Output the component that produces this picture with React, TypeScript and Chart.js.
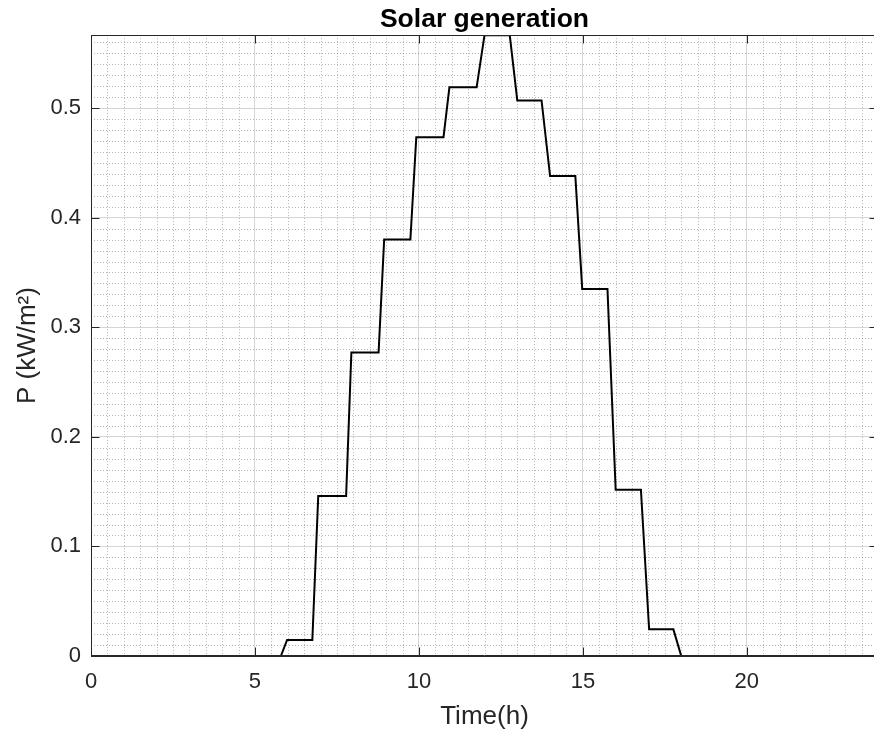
import { useEffect, useRef } from 'react';
import { Chart, registerables } from 'chart.js';

Chart.register(...registerables);

const TITLE = 'Solar generation';
const X_LABEL = 'Time(h)';
const Y_LABEL = 'P (kW/m²)';

const X_MIN = 0;
const X_MAX = 24;
const X_STEP = 5;
const X_MINOR = 0.5;
const Y_MIN = 0;
const Y_MAX = 0.5666;
const Y_STEP = 0.1;
const Y_MINOR = 0.01;

// Time (hours) and solar power (kW/m²)
const TIME_H = [0, 5.79, 5.98, 6.75, 6.93, 7.78, 7.94, 8.77, 8.94, 9.74, 9.92, 10.75, 10.93, 11.76, 12.0, 12.77, 13.0, 13.74, 14.0, 14.77, 14.98, 15.75, 16.0, 16.77, 17.02, 17.76, 18.0, 24];
const POWER = [0, 0, 0.0146, 0.0146, 0.146, 0.146, 0.277, 0.277, 0.380, 0.380, 0.4735, 0.4735, 0.519, 0.519, 0.5666, 0.5666, 0.507, 0.507, 0.438, 0.438, 0.335, 0.335, 0.1517, 0.1517, 0.0243, 0.0243, 0, 0];

const FONT = "'Liberation Sans', Arial, Helvetica, sans-serif";
const AXIS_COLOR = '#262626';

const matlabAxes = {
  id: 'matlabAxes',
  beforeDatasetsDraw(chart: any) {
    const { ctx, chartArea, scales } = chart;
    const { left, right, top, bottom } = chartArea;
    const x = scales.x;
    const y = scales.y;
    ctx.save();
    ctx.strokeStyle = 'rgba(60,60,60,0.38)';
    ctx.lineWidth = 1;
    ctx.setLineDash([1, 2]);
    ctx.beginPath();
    for (let i = 1; X_MIN + i * X_MINOR < X_MAX - 1e-9; i++) {
      const v = X_MIN + i * X_MINOR;
      if (Math.abs(v / X_STEP - Math.round(v / X_STEP)) < 1e-6) continue;
      const px = Math.round(x.getPixelForValue(v)) + 0.5;
      ctx.moveTo(px, top);
      ctx.lineTo(px, bottom);
    }
    for (let i = 1; Y_MIN + i * Y_MINOR < Y_MAX - 1e-9; i++) {
      const v = Y_MIN + i * Y_MINOR;
      if (Math.abs(v / Y_STEP - Math.round(v / Y_STEP)) < 1e-6) continue;
      const py = Math.round(y.getPixelForValue(v)) + 0.5;
      ctx.moveTo(left, py);
      ctx.lineTo(right, py);
    }
    ctx.stroke();
    ctx.restore();
  },
  afterDatasetsDraw(chart: any) {
    const { ctx, chartArea, scales } = chart;
    const { left, right, top, bottom } = chartArea;
    const x = scales.x;
    const y = scales.y;
    const tl = 8;
    ctx.save();
    ctx.strokeStyle = AXIS_COLOR;
    ctx.lineWidth = 1;
    ctx.beginPath();
    const L = Math.round(left) + 0.5;
    const R = Math.round(right) - 0.5;
    const T = Math.round(top) + 0.5;
    const B = Math.round(bottom) - 0.5;
    ctx.moveTo(L, T);
    ctx.lineTo(R, T);
    ctx.lineTo(R, B);
    ctx.lineTo(L, B);
    ctx.closePath();
    x.ticks.forEach((t: any) => {
      const px = Math.round(x.getPixelForValue(t.value)) + 0.5;
      ctx.moveTo(px, B);
      ctx.lineTo(px, B - tl);
      ctx.moveTo(px, T);
      ctx.lineTo(px, T + tl);
    });
    y.ticks.forEach((t: any) => {
      const py = Math.round(y.getPixelForValue(t.value)) + 0.5;
      ctx.moveTo(L, py);
      ctx.lineTo(L + tl, py);
      ctx.moveTo(R, py);
      ctx.lineTo(R - tl, py);
    });
    ctx.stroke();
    ctx.restore();
  },
};

export default function App() {
  const canvasRef = useRef<HTMLCanvasElement | null>(null);

  useEffect(() => {
    const canvas = canvasRef.current;
    if (!canvas) return;
    const points = TIME_H.map((t, i) => ({ x: t, y: POWER[i] }));
    const chart = new Chart(canvas, {
      type: 'line',
      data: {
        datasets: [
          {
            data: points,
            borderColor: '#000000',
            borderWidth: 2,
            pointRadius: 0,
            tension: 0,
            fill: false,
          },
        ],
      },
      options: {
        animation: false,
        responsive: false,
        devicePixelRatio: 1,
        layout: { padding: 0 },
        plugins: {
          legend: { display: false },
          tooltip: { enabled: false },
          title: {
            display: true,
            fullSize: false,
            text: TITLE,
            color: '#000000',
            font: { family: FONT, size: 26.5, weight: 'bold', lineHeight: 1.1 },
            padding: { top: 5, bottom: 1 },
          },
        },
        scales: {
          x: {
            type: 'linear',
            min: X_MIN,
            max: X_MAX,
            afterFit: (s: any) => {
              s.height = 78;
            },
            ticks: {
              stepSize: X_STEP,
              includeBounds: false,
              padding: 13,
              color: '#262626',
              font: { family: FONT, size: 22 },
              maxRotation: 0,
              callback: (v: any) => String(v),
            },
            grid: { color: '#d6d6d6', lineWidth: 1, drawTicks: false },
            border: { display: true, color: AXIS_COLOR, width: 1 },
            title: {
              display: true,
              text: X_LABEL,
              color: '#262626',
              font: { family: FONT, size: 26, lineHeight: 1.2 },
              padding: { top: 0, bottom: 2 },
            },
          },
          y: {
            type: 'linear',
            min: Y_MIN,
            max: Y_MAX,
            afterFit: (s: any) => {
              s.width = 91;
            },
            ticks: {
              stepSize: Y_STEP,
              includeBounds: false,
              padding: 10,
              color: '#262626',
              font: { family: FONT, size: 22 },
              callback: (v: any) => (Math.abs(v) < 1e-9 ? '0' : Number(v).toFixed(1)),
            },
            grid: { color: '#d6d6d6', lineWidth: 1, drawTicks: false },
            border: { display: true, color: AXIS_COLOR, width: 1 },
            title: {
              display: true,
              text: Y_LABEL,
              color: '#262626',
              font: { family: FONT, size: 26, lineHeight: 1.2 },
              padding: { top: 12, bottom: 0 },
            },
          },
        },
      },
      plugins: [matlabAxes],
    });
    return () => chart.destroy();
  }, []);

  return (
    <div style={{ position: 'fixed', left: 0, top: 0, width: 874, height: 734, overflow: 'hidden', background: '#ffffff' }}>
      <canvas ref={canvasRef} width={878} height={734} style={{ display: 'block', width: 878, height: 734 }} />
    </div>
  );
}
